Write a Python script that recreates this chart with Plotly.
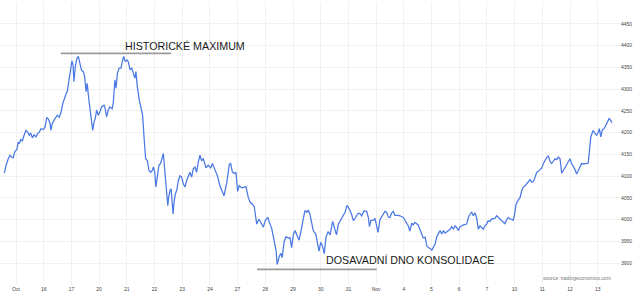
import plotly.graph_objects as go

# trading-day index (0 = Oct 15, 2025), gold price
t = [-0.42,-0.36,-0.28,-0.22,-0.16,-0.10,-0.04,0.03,0.08,0.12,0.17,0.23,0.29,0.36,0.42,0.48,0.53,0.59,0.65,0.72,
     0.78,0.84,0.90,0.99,1.05,1.11,1.17,1.23,1.26,1.31,1.37,1.43,1.49,1.56,1.63,1.69,1.74,1.81,1.85,1.91,
     1.98,2.02,2.06,2.09,2.14,2.20,2.25,2.31,2.36,2.43,2.48,2.53,2.57,2.63,2.67,2.73,2.77,2.82,2.86,2.91,
     2.97,3.03,3.09,3.18,3.22,3.27,3.33,3.39,3.47,3.51,3.57,3.61,3.66,3.72,3.79,3.85,3.89,3.94,4.00,4.05,
     4.12,4.18,4.24,4.29,4.33,4.38,4.45,4.52,4.57,4.63,4.68,4.74,4.80,4.86,4.92,4.96,5.01,5.05,5.10,5.16,
     5.22,5.28,5.32,5.35,5.40,5.44,5.48,5.51,5.56,5.60,5.63,5.67,5.70,5.75,5.80,5.86,5.92,5.98,6.04,6.10,
     6.16,6.22,6.28,6.34,6.40,6.46,6.52,6.58,6.64,6.70,6.76,6.86,6.94,7.03,7.09,7.18,7.27,7.36,7.46,7.51,
     7.61,7.70,7.75,7.81,7.88,7.94,8.00,8.06,8.15,8.23,8.30,8.39,8.45,8.53,8.60,8.69,8.77,8.87,8.93,9.00,
     9.09,9.14,9.23,9.31,9.39,9.43,9.50,9.56,9.61,9.68,9.75,9.83,9.89,9.95,10.01,10.07,10.13,10.22,10.29,10.37,
     10.43,10.50,10.55,10.61,10.68,10.73,10.82,10.88,10.94,11.00,11.06,11.13,11.19,11.27,11.34,11.43,11.50,11.57,11.64,11.72,
     11.79,11.88,11.95,12.02,12.11,12.18,12.26,12.33,12.40,12.48,12.56,12.66,12.72,12.76,12.81,12.91,12.96,13.02,13.07,13.14,
     13.24,13.32,13.38,13.44,13.50,13.56,13.62,13.68,13.80,13.86,13.98,14.04,14.11,14.16,14.22,14.29,14.34,14.40,14.52,14.59,
     14.65,14.70,14.77,14.83,14.88,14.95,15.01,15.07,15.13,15.19,15.25,15.31,15.37,15.43,15.49,15.61,15.67,15.73,15.79,15.85,
     15.91,15.97,16.03,16.09,16.15,16.27,16.33,16.39,16.45,16.51,16.57,16.63,16.69,16.75,16.81,16.87,16.93,16.99,17.05,17.11,
     17.17,17.29,17.35,17.41,17.47,17.53,17.59,17.65,17.72,17.77,17.83,17.95,17.99,18.05,18.13,18.20,18.26,18.31,18.38,18.44,
     18.50,18.56,18.62,18.68,18.74,18.80,18.86,18.92,18.98,19.04,19.10,19.16,19.22,19.28,19.34,19.46,19.52,19.58,19.64,19.70,
     19.76,19.88,19.94,20.00,20.06,20.12,20.18,20.24,20.30,20.36,20.42,20.54,20.66,20.70,20.75,20.81,20.84,20.90,20.96,21.02,
     21.06,21.11,21.17,21.23,21.29,21.35,21.41,21.47,21.51]

price = [4107,4125,4140,4148,4144,4142,4157,4161,4178,4175,4184,4181,4194,4205,4201,4194,4199,4188,4195,4190,
         4198,4201,4209,4207,4213,4235,4231,4221,4205,4221,4228,4236,4240,4235,4248,4267,4278,4290,4294,4317,
         4351,4365,4355,4317,4351,4371,4375,4359,4344,4340,4328,4294,4313,4275,4252,4221,4205,4225,4232,4252,
         4240,4248,4259,4263,4255,4236,4252,4259,4255,4267,4321,4302,4336,4348,4348,4367,4375,4363,4367,4363,
         4344,4348,4336,4325,4340,4305,4275,4252,4240,4182,4140,4136,4113,4109,4113,4121,4109,4075,4098,4125,
         4129,4140,4152,4129,4090,4067,4032,4051,4067,4071,4044,4013,4036,4059,4067,4090,4101,4098,4082,4075,
         4090,4098,4109,4098,4117,4121,4109,4132,4148,4136,4140,4119,4125,4119,4129,4115,4101,4078,4063,4055,
         4085,4127,4129,4110,4106,4109,4065,4078,4073,4075,4076,4050,4040,4036,4030,3990,4001,3990,3983,3998,
         4006,3995,3980,3955,3928,3897,3915,3923,3913,3950,3961,3958,3959,3936,3965,3975,3967,3953,3975,4005,
         4021,4017,4022,4013,3990,3975,3967,3948,3928,3948,3940,3922,3960,3973,3965,3996,3980,3965,3990,3998,
         4005,4017,4033,4026,4013,3998,4005,4013,4015,4009,4020,4019,4005,3984,3998,3999,4003,3986,3971,4000,
         4010,4019,4017,4006,4005,4015,4019,4010,4010,4009,4005,3998,3990,3986,3974,3992,3988,3994,3988,3976,
         3967,3958,3960,3940,3936,3934,3930,3936,3944,3961,3969,3975,3967,3975,3969,3975,3978,3984,3978,3986,
         3982,3975,3984,3986,3988,3990,4005,4013,4017,4009,4016,4004,3978,3986,3982,3978,3986,3990,3998,3996,
         4002,4003,4009,4005,4002,3998,3994,3991,4001,4005,4002,3999,4009,4035,4045,4051,4067,4075,4078,4082,
         4086,4092,4086,4088,4098,4109,4111,4115,4119,4129,4136,4143,4146,4134,4129,4140,4138,4144,4140,4107,
         4113,4125,4132,4140,4129,4123,4115,4105,4113,4121,4129,4128,4130,4157,4190,4201,4205,4198,4194,4201,
         4209,4190,4207,4209,4217,4223,4232,4228,4223]

tick_pos = list(range(22))
tick_text = ["Oct", "16", "17", "20", "21", "22", "23", "24", "27", "28", "29", "30", "31",
             "Nov", "4", "5", "6", "7", "10", "11", "12", "13"]
y_ticks = list(range(3850, 4501, 50))
y_text = ["" if v in (3850, 4500) else str(v) for v in y_ticks]

fig = go.Figure()
fig.add_trace(go.Scatter(x=t, y=price, mode="lines",
                         line=dict(color="#4a78e4", width=1.25), hoverinfo="skip"))

fig.update_layout(
    width=640, height=297,
    margin=dict(l=0, r=20, t=2, b=12),
    paper_bgcolor="white", plot_bgcolor="white",
    showlegend=False,
    font=dict(family="Liberation Sans, Arial, sans-serif", color="#444"),
    xaxis=dict(range=[-0.578, 21.805], tickvals=tick_pos, ticktext=tick_text,
               showgrid=True, gridcolor="#f1f1f1", gridwidth=1, zeroline=False,
               ticks="", tickfont=dict(size=5, color="#444"), showline=False),
    yaxis=dict(range=[3850, 4500], side="right", tickvals=y_ticks, ticktext=y_text,
               showgrid=True, gridcolor="#f1f1f1", gridwidth=1, zeroline=False,
               ticks="", tickfont=dict(size=5, color="#444"), showline=False),
)

fig.add_shape(type="line", xref="x", yref="y", x0=1.62, x1=5.6, y0=4382, y1=4382,
              line=dict(color="#9a9a9a", width=1.6))
fig.add_shape(type="line", xref="x", yref="y", x0=8.7, x1=13.02, y0=3886, y1=3886,
              line=dict(color="#9a9a9a", width=1.6))

fig.add_annotation(x=3.85, y=4399, xref="x", yref="y", text="HISTORICKÉ MAXIMUM",
                   showarrow=False, xanchor="left", yanchor="middle",
                   font=dict(size=10.7, color="#1a1a1a", family="Liberation Sans, Arial, sans-serif"))
fig.add_annotation(x=11.13, y=3908, xref="x", yref="y", text="DOSAVADNÍ DNO KONSOLIDACE",
                   showarrow=False, xanchor="left", yanchor="middle",
                   font=dict(size=10.7, color="#1a1a1a", family="Liberation Sans, Arial, sans-serif"))
fig.add_annotation(x=21.55, y=3867, xref="x", yref="y", text="source: tradingeconomics.com",
                   showarrow=False, xanchor="right", yanchor="middle",
                   font=dict(size=5, color="#777", family="Liberation Sans, Arial, sans-serif"))

fig.write_html("out.html")
